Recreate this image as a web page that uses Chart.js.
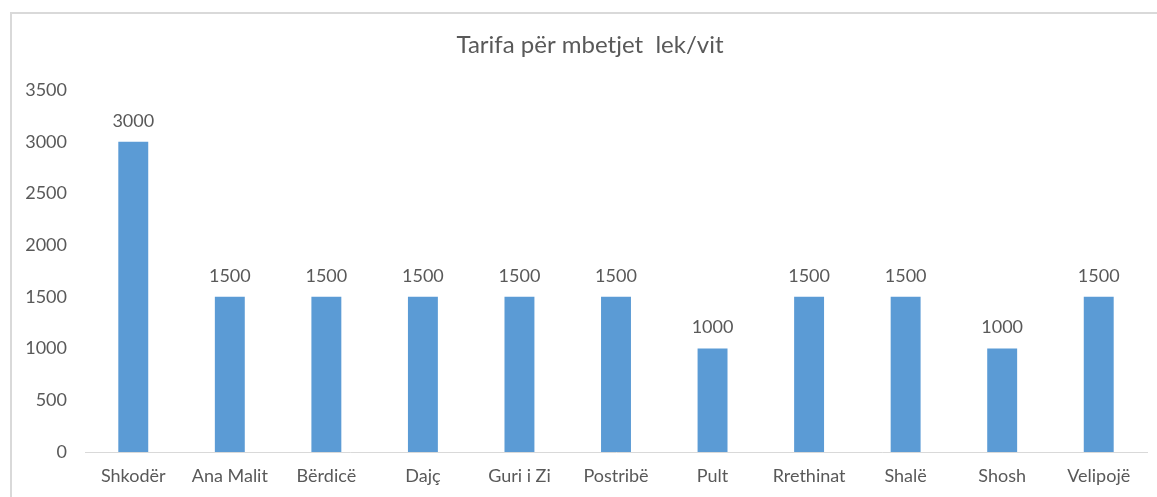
<!DOCTYPE html>
<html>
<head>
<meta charset="utf-8">
<script src="https://cdn.jsdelivr.net/npm/chart.js@4"></script>
<style>
    body { margin: 0; background: #fff; overflow: hidden; }
    #wrap { position: relative; width: 1157px; height: 497px; }
    #frame { position: absolute; left: 10px; top: 12px; width: 1300px; height: 700px; border: 2px solid #d9d9d9; pointer-events: none; }
    canvas { position: absolute; left: 0; top: 0; }
</style>
</head>
<body>
<div id="wrap">
    <canvas id="chart" width="1157" height="497"></canvas>
    <div id="frame"></div>
</div>
<script>
// --- Datos del gráfico ---
const zonat = ['Shkodër', 'Ana Malit', 'Bërdicë', 'Dajç', 'Guri i Zi', 'Postribë', 'Pult', 'Rrethinat', 'Shalë', 'Shosh', 'Velipojë'];
const tarifat = [3000, 1500, 1500, 1500, 1500, 1500, 1000, 1500, 1500, 1000, 1500];
const titulli = 'Tarifa për mbetjet  lek/vit';

const textColor = '#595959';
const fontFamily = 'Lato, "Open Sans", sans-serif';

// Título y etiquetas de valor encima de cada barra (sin plugin externo)
const textos = {
    id: 'textos',
    afterDatasetsDraw(chart) {
        const ctx = chart.ctx;
        const meta = chart.getDatasetMeta(0);
        ctx.save();
        ctx.fillStyle = textColor;
        ctx.textAlign = 'center';
        ctx.textBaseline = 'middle';
        // título centrado sobre el marco del gráfico, no sobre el canvas
        ctx.font = '24px ' + fontFamily;
        ctx.fillText(titulli, 590, 45);
        ctx.font = '18px ' + fontFamily;
        meta.data.forEach((bar, i) => {
            ctx.fillText(String(tarifat[i]), bar.x, bar.y - 21);
        });
        ctx.restore();
    }
};

new Chart(document.getElementById('chart'), {
    type: 'bar',
    data: {
        labels: zonat,
        datasets: [{
            data: tarifat,
            backgroundColor: '#5b9bd5',
            borderWidth: 0,
            barPercentage: 0.31,
            categoryPercentage: 1
        }]
    },
    options: {
        responsive: false,
        animation: false,
        layout: { padding: { left: 0, right: 10, top: 90, bottom: 0 } },
        scales: {
            y: {
                min: 0,
                max: 3500,
                ticks: {
                    stepSize: 500,
                    color: textColor,
                    font: { size: 18, family: fontFamily },
                    padding: 18,
                    callback: v => String(v) // sin separador de miles
                },
                grid: { display: false, drawTicks: false },
                border: { display: false },
                afterFit(scale) { scale.width = 85; }
            },
            x: {
                ticks: { color: textColor, font: { size: 18, family: fontFamily }, padding: 13, maxRotation: 0 },
                grid: { display: false, drawTicks: false },
                border: { display: true, color: '#d9d9d9', width: 1 },
                afterFit(scale) { scale.height = 45; }
            }
        },
        plugins: {
            legend: { display: false },
            tooltip: { enabled: false },
            title: { display: false }
        }
    },
    plugins: [textos]
});
</script>
</body>
</html>
